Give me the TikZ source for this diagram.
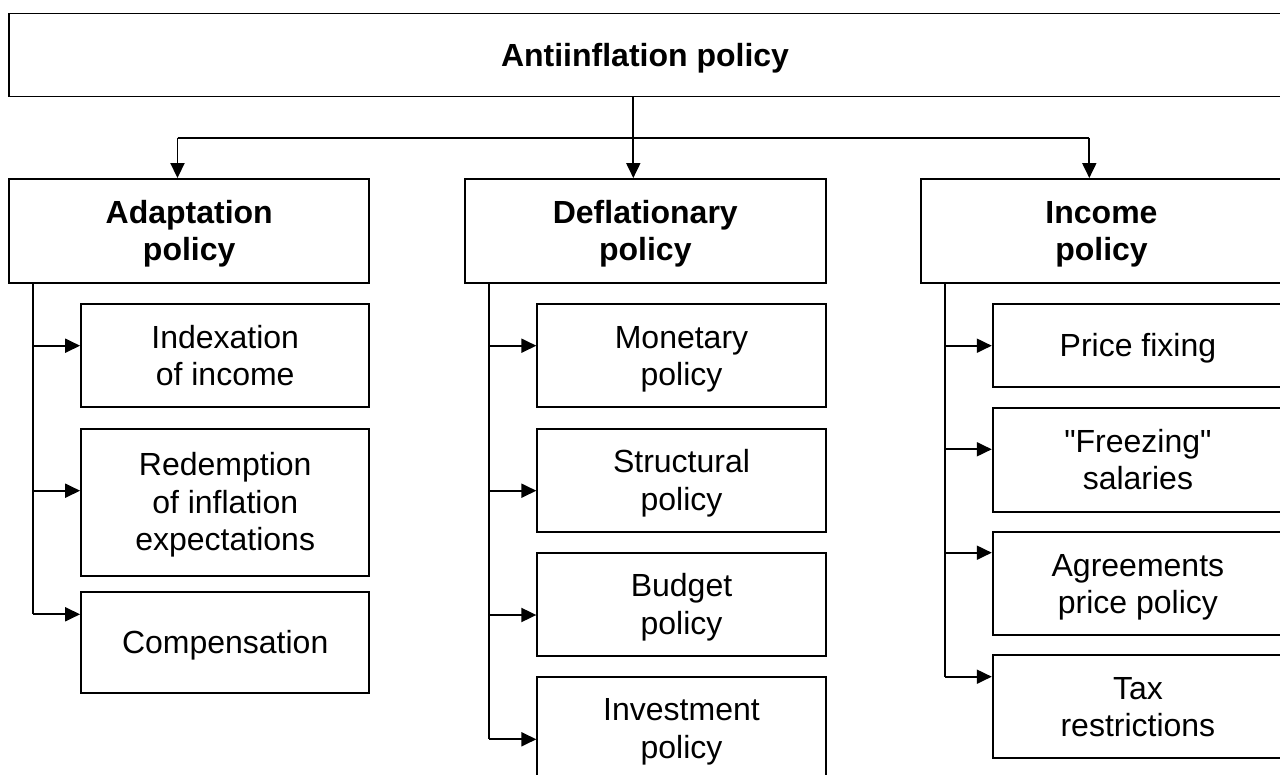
\documentclass[tikz,border=0pt]{standalone}
\usepackage{fontspec}
\setmainfont{Liberation Sans}
\usetikzlibrary{arrows.meta}
\newcommand\mystrut{\vrule width 0pt height 29pt depth 6.8pt\relax}
\begin{document}
\begin{tikzpicture}[x=1pt,y=-1pt,
  box/.style={draw, line width=1.9pt, align=center, inner sep=0pt,
    font=\fontsize{32}{37.5}\selectfont},
  head/.style={box, font=\fontsize{32}{37.5}\selectfont\bfseries},
  line/.style={line width=1.9pt},
  conn/.style={line width=1.9pt, -{Triangle[length=15pt,width=14pt]}}]
\useasboundingbox (0,0) rectangle (1280,775);
\clip (0,0) rectangle (1280,775);
% top
\node[head, minimum width=1272pt, minimum height=83pt] (top) at (645,55) {\mystrut Antiinflation policy};
% columns
\node[head, minimum width=360.3pt, minimum height=104pt] (adapt) at (189.2,231) {\mystrut Adaptation\\\mystrut policy};
\node[head, minimum width=360.7pt, minimum height=104pt] (defl) at (645.3,231) {\mystrut Deflationary\\\mystrut policy};
\node[head, minimum width=361pt, minimum height=104pt] (inc) at (1101.5,231) {\mystrut Income\\\mystrut policy};
% left sub boxes
\node[box, minimum width=288.3pt, minimum height=103.3pt] (ind) at (225.2,355.7) {\mystrut Indexation\\\mystrut of income};
\node[box, minimum width=288.3pt, minimum height=146.7pt] (red) at (225.2,502.3) {\mystrut Redemption\\\mystrut of inflation\\\mystrut expectations};
\node[box, minimum width=288.3pt, minimum height=101pt] (comp) at (225.2,642.2) {\mystrut Compensation};
% middle sub boxes
\node[box, minimum width=288.4pt, minimum height=103.3pt] (mon) at (681.5,355.7) {\mystrut Monetary\\\mystrut policy};
\node[box, minimum width=288.4pt, minimum height=103pt] (str) at (681.5,480.2) {\mystrut Structural\\\mystrut policy};
\node[box, minimum width=288.4pt, minimum height=103.3pt] (bud) at (681.5,604.3) {\mystrut Budget\\\mystrut policy};
\node[box, minimum width=288.4pt, minimum height=103.3pt] (inv) at (681.5,728.3) {\mystrut Investment\\\mystrut policy};
% right sub boxes
\node[box, minimum width=290.3pt, minimum height=82.7pt] (price) at (1137.9,345.3) {\mystrut Price fixing};
\node[box, minimum width=290.3pt, minimum height=104pt] (frz) at (1137.9,459.7) {\mystrut \textquotedbl Freezing\textquotedbl\\\mystrut salaries};
\node[box, minimum width=290.3pt, minimum height=103pt] (agr) at (1137.9,583.8) {\mystrut Agreements\\\mystrut price policy};
\node[box, minimum width=290.3pt, minimum height=103.3pt] (tax) at (1137.9,706.7) {\mystrut Tax\\\mystrut restrictions};
% top connectors
\coordinate (hub) at (633.3,137.7);
\coordinate (hl) at (177.5,137.7);
\coordinate (hr) at (1089.3,137.7);
\draw[line] (top.south -| hub) -- (hub);
\draw[line] (hl) -- (hr);
\draw[conn] (hl) -- (hl |- adapt.north);
\draw[conn] (hub) -- (hub |- defl.north);
\draw[conn] (hr) -- (hr |- inc.north);
% left branch
\coordinate (a1) at (33,345.7);
\coordinate (a2) at (33,490.7);
\coordinate (a3) at (33,614.3);
\draw[line] (adapt.south -| a1) -- (a3);
\draw[conn] (a1) -- (a1 -| ind.west);
\draw[conn] (a2) -- (a2 -| red.west);
\draw[conn] (a3) -- (a3 -| comp.west);
% middle branch
\coordinate (b1) at (489.3,345.7);
\coordinate (b2) at (489.3,490.7);
\coordinate (b3) at (489.3,615);
\coordinate (b4) at (489.3,739.3);
\draw[line] (defl.south -| b1) -- (b4);
\draw[conn] (b1) -- (b1 -| mon.west);
\draw[conn] (b2) -- (b2 -| str.west);
\draw[conn] (b3) -- (b3 -| bud.west);
\draw[conn] (b4) -- (b4 -| inv.west);
% right branch
\coordinate (c1) at (945.3,345.7);
\coordinate (c2) at (945.3,449.3);
\coordinate (c3) at (945.3,552.7);
\coordinate (c4) at (945.3,676.7);
\draw[line] (inc.south -| c1) -- (c4);
\draw[conn] (c1) -- (c1 -| price.west);
\draw[conn] (c2) -- (c2 -| frz.west);
\draw[conn] (c3) -- (c3 -| agr.west);
\draw[conn] (c4) -- (c4 -| tax.west);
\end{tikzpicture}
\end{document}
